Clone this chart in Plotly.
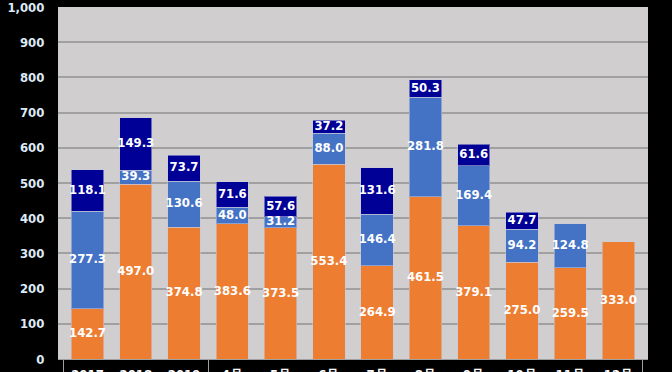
import plotly.graph_objects as go

groups = ["年度", "年度", "年度", "月", "月", "月", "月", "月", "月", "月", "月", "月"]
periods = ["2017", "2018", "2019", "4月", "5月", "6月", "7月", "8月", "9月", "10月", "11月", "12月"]
series_a = [142.7, 497.0, 374.8, 383.6, 373.5, 553.4, 264.9, 461.5, 379.1, 275.0, 259.5, 333.0]
series_b = [277.3, 39.3, 130.6, 48.0, 31.2, 88.0, 146.4, 281.8, 169.4, 94.2, 124.8, None]
series_c = [118.1, 149.3, 73.7, 71.6, 57.6, 37.2, 131.6, 50.3, 61.6, 47.7, None, None]
y_ticks = list(range(0, 1001, 100))

colors = ["#ED7D31", "#4472C4", "#000096"]
FONT = "DejaVu Sans Condensed"

x = [groups, periods]
fig = go.Figure()
base = [0.0] * len(periods)
for vals, col in zip([series_a, series_b, series_c], colors):
    fig.add_trace(go.Bar(
        x=x, y=vals, marker=dict(color=col, line=dict(color="rgba(200,200,220,0.55)", width=1)),
        hoverinfo="skip", showlegend=False,
    ))
    mids, txt = [], []
    for i, v in enumerate(vals):
        if v is None:
            mids.append(None); txt.append("")
        else:
            mids.append(base[i] + v / 2)
            txt.append(f"{v:.1f}")
            base[i] += v
    fig.add_trace(go.Scatter(
        x=x, y=mids, mode="text", text=txt,
        textfont=dict(family=FONT, size=13, color="white", weight="bold"),
        hoverinfo="skip", showlegend=False, cliponaxis=False,
    ))

fig.update_layout(
    barmode="stack", bargap=0.33,
    width=672, height=372,
    margin=dict(l=58, r=24, t=7, b=13, autoexpand=False),
    paper_bgcolor="black", plot_bgcolor="#D0CECE",
    font=dict(family=FONT, color="white"),
)
fig.update_xaxes(
    type="multicategory", showline=True, linecolor="#A0A0A0", linewidth=1,
    dividercolor="#A0A0A0", dividerwidth=1, automargin=False,
    ticklabelstandoff=3,
    tickfont=dict(family=FONT, size=13, color="white", weight="bold"),
    showgrid=False,
)
fig.update_yaxes(
    range=[0, 1000], tickvals=y_ticks, tickformat=",", automargin=False,
    gridcolor="#A0A0A0", gridwidth=1.5, zeroline=False,
    ticks="outside", ticklen=10, tickcolor="black", ticklabeloverflow="allow",
    tickfont=dict(family=FONT, size=13, color="#DDEBF7", weight="bold"),
)
fig.write_html("out.html", config={"displayModeBar": False},
               post_script="document.body.style.margin='0';document.body.style.background='black';")
